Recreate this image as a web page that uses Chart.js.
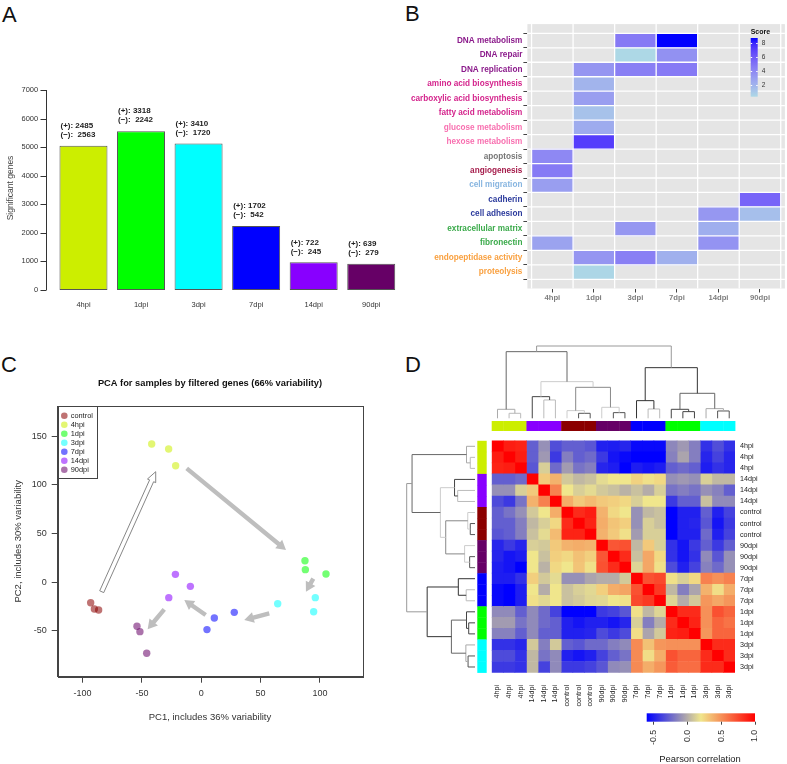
<!DOCTYPE html>
<html lang="en">
<head>
<meta charset="UTF-8">
<title>Time course transcriptome overview</title>
<script src="https://cdn.jsdelivr.net/npm/chart.js"></script>
<style>
  body { margin: 0; background: #fff; width: 787px; height: 764px; overflow: hidden; position: relative;
         font-family: 'Liberation Sans', Arial, sans-serif; }
  canvas { position: absolute; }
  .tag { position: absolute; font-size: 22px; line-height: 22px; color: #111; }
</style>
</head>
<body>
<div class="tag" style="left:2px;top:4px">A</div>
<div class="tag" style="left:405px;top:3px">B</div>
<div class="tag" style="left:1px;top:354px">C</div>
<div class="tag" style="left:405px;top:354px">D</div>

<canvas id="chartA" width="400" height="320" style="left:0;top:0"></canvas>
<canvas id="chartB" width="397" height="320" style="left:390px;top:0"></canvas>
<canvas id="chartC" width="390" height="444" style="left:0;top:320px"></canvas>
<canvas id="chartD" width="397" height="444" style="left:390px;top:320px"></canvas>

<script>
// ---- data: panel A (significant genes per time point)
const timeLabels = ['4hpi', '1dpi', '3dpi', '7dpi', '14dpi', '90dpi'];
const upGenes = [2485, 3318, 3410, 1702, 722, 639];
const downGenes = [2563, 2242, 1720, 542, 245, 279];
const geneTicks = [0, 1000, 2000, 3000, 4000, 5000, 6000, 7000];

// ---- data: panel B (enriched terms, score per time point, null = not enriched)
const goTerms = ['DNA metabolism', 'DNA repair', 'DNA replication', 'amino acid biosynthesis',
  'carboxylic acid biosynthesis', 'fatty acid metabolism', 'glucose metabolism', 'hexose metabolism',
  'apoptosis', 'angiogenesis', 'cell migration', 'cadherin', 'cell adhesion', 'extracellular matrix',
  'fibronectin', 'endopeptidase activity', 'proteolysis'];
const goTermColors = ['#8B1A8B', '#8B1A8B', '#8B1A8B', '#D4248C', '#D4248C', '#D4248C', '#F870B0', '#F870B0',
  '#777777', '#A51C4B', '#87B5E0', '#2B3A9C', '#2B3A9C', '#3AAA4A', '#3AAA4A', '#F9A03F', '#F9A03F'];
const goScores = [
  [null, null, 4.6, 8.7, null, null],
  [null, null, 0.4, 3.6, null, null],
  [null, 3.4, 4.4, 4.6, null, null],
  [null, 2.0, null, null, null, null],
  [null, 3.0, null, null, null, null],
  [null, 1.4, null, null, null, null],
  [null, 2.4, null, null, null, null],
  [null, 7.2, null, null, null, null],
  [4.0, null, null, null, null, null],
  [4.6, null, null, null, null, null],
  [3.0, null, null, null, null, null],
  [null, null, null, null, null, 5.6],
  [null, null, null, null, 3.3, 1.5],
  [null, null, 3.3, null, 2.3, null],
  [2.8, null, null, null, 3.5, null],
  [null, 3.4, 4.4, 2.2, null, null],
  [null, 0.5, null, null, null, null]
];
const scoreRange = [0.4, 8.7];
const scoreTicks = [2, 4, 6, 8];

// ---- data: panel C (PCA coordinates)
const pcaGroups = ['control', '4hpi', '1dpi', '3dpi', '7dpi', '14dpi', '90dpi'];
const pcaX = [[-93.2, -90.1, -86.5], [-41.8, -27.5, -21.6], [87.4, 87.7, 105.1], [64.4, 96.1, 94.7],
  [4.8, 11.0, 27.8], [-21.8, -9.2, -27.4], [-54.2, -51.7, -46.0]];
const pcaY = [[-21.0, -27.4, -28.5], [141.8, 136.7, 119.5], [22.1, 12.9, 8.5], [-22.0, -15.8, -30.2],
  [-48.6, -36.7, -30.9], [8.1, -4.2, -15.8], [-45.2, -50.7, -72.9]];
const pcaXTicks = [-100, -50, 0, 50, 100];
const pcaYTicks = [-50, 0, 50, 100, 150];
// arrows: x1, y1, x2, y2 in PC units (first one is the hollow arrow)
const pcaArrows = [[-83.9, -9.7, -38.4, 113.4], [-12.3, 116.8, 71.4, 33.1], [94.4, 3.7, 88.2, -9.7],
  [57.3, -31.9, 36.2, -38.7], [3.7, -33.6, -14.3, -18.2], [-31.2, -27.8, -45.2, -48.3]];

// ---- data: panel D (sample correlation heatmap)
const sampleLabels = ['4hpi', '4hpi', '4hpi', '14dpi', '14dpi', '14dpi', 'control', 'control', 'control',
  '90dpi', '90dpi', '90dpi', '7dpi', '7dpi', '7dpi', '1dpi', '1dpi', '1dpi', '3dpi', '3dpi', '3dpi'];
const corrMatrix = [
  [1.0, 0.9, 0.88, -0.27, -0.1, -0.33, -0.27, -0.27, -0.3, -0.49, -0.5, -0.47, -0.57, -0.57, -0.57, -0.13, -0.07, -0.16, -0.43, -0.33, -0.43],
  [0.9, 1.0, 0.9, -0.27, -0.07, -0.4, -0.16, -0.27, -0.23, -0.4, -0.53, -0.57, -0.6, -0.6, -0.6, -0.15, -0.03, -0.16, -0.47, -0.37, -0.47],
  [0.88, 0.9, 1.0, -0.3, 0.12, -0.23, -0.06, -0.2, -0.16, -0.47, -0.5, -0.6, -0.5, -0.53, -0.5, -0.27, -0.23, -0.27, -0.5, -0.43, -0.47],
  [-0.27, -0.27, -0.23, 1.0, 0.3, 0.38, 0.1, 0.04, 0.07, 0.16, 0.2, 0.2, 0.27, 0.22, 0.25, -0.1, -0.07, -0.1, 0.12, 0.04, 0.04],
  [-0.1, -0.1, 0.12, 0.3, 1.0, 0.55, 0.2, 0.12, 0.16, 0.1, 0.07, 0.02, 0.07, 0.0, 0.12, -0.2, -0.16, -0.2, -0.1, -0.15, -0.27],
  [-0.34, -0.4, -0.2, 0.38, 0.55, 1.0, 0.4, 0.3, 0.35, 0.3, 0.28, 0.25, 0.12, 0.2, 0.2, -0.4, -0.27, -0.27, 0.07, -0.12, -0.12],
  [-0.27, -0.2, -0.1, 0.1, 0.2, 0.4, 1.0, 0.85, 0.9, 0.38, 0.25, 0.2, -0.1, 0.04, 0.07, -0.6, -0.49, -0.49, -0.27, -0.49, -0.37],
  [-0.27, -0.27, -0.16, 0.04, 0.12, 0.25, 0.85, 1.0, 0.88, 0.4, 0.32, 0.28, -0.1, 0.12, 0.07, -0.6, -0.49, -0.47, -0.3, -0.53, -0.4],
  [-0.3, -0.27, -0.16, 0.07, 0.16, 0.35, 0.88, 0.88, 1.0, 0.38, 0.3, 0.22, -0.06, 0.12, 0.12, -0.6, -0.49, -0.49, -0.23, -0.49, -0.37],
  [-0.47, -0.4, -0.47, 0.12, 0.1, 0.3, 0.38, 0.4, 0.38, 1.0, 0.7, 0.72, 0.04, 0.3, 0.12, -0.43, -0.53, -0.4, -0.27, -0.4, -0.27],
  [-0.47, -0.53, -0.5, 0.2, 0.07, 0.28, 0.25, 0.33, 0.28, 0.7, 1.0, 0.85, 0.07, 0.42, 0.25, -0.43, -0.53, -0.43, -0.12, -0.3, -0.1],
  [-0.5, -0.53, -0.6, 0.2, 0.02, 0.25, 0.2, 0.32, 0.22, 0.72, 0.85, 1.0, 0.14, 0.42, 0.22, -0.34, -0.49, -0.37, -0.15, -0.23, -0.1],
  [-0.5, -0.5, -0.43, 0.28, 0.1, 0.16, -0.1, -0.1, -0.03, 0.0, 0.0, 0.1, 1.0, 0.72, 0.75, 0.22, 0.12, 0.25, 0.55, 0.5, 0.55],
  [-0.57, -0.6, -0.5, 0.2, 0.0, 0.2, 0.07, 0.12, 0.15, 0.28, 0.4, 0.43, 0.72, 1.0, 0.8, 0.04, -0.16, -0.03, 0.38, 0.23, 0.4],
  [-0.57, -0.6, -0.5, 0.22, 0.15, 0.2, 0.07, 0.1, 0.14, 0.15, 0.2, 0.22, 0.75, 0.8, 1.0, 0.14, 0.0, 0.1, 0.48, 0.42, 0.48],
  [-0.12, -0.12, -0.27, -0.12, -0.23, -0.37, -0.6, -0.6, -0.6, -0.4, -0.37, -0.3, 0.22, 0.04, 0.14, 1.0, 0.85, 0.85, 0.5, 0.72, 0.65],
  [-0.06, -0.06, -0.2, -0.12, -0.23, -0.27, -0.49, -0.53, -0.49, -0.49, -0.53, -0.47, 0.12, -0.16, 0.0, 0.85, 1.0, 0.88, 0.5, 0.65, 0.6],
  [-0.15, -0.15, -0.27, -0.12, -0.27, -0.27, -0.49, -0.49, -0.47, -0.34, -0.4, -0.34, 0.23, -0.03, 0.1, 0.88, 0.9, 1.0, 0.48, 0.65, 0.65],
  [-0.43, -0.43, -0.47, 0.1, -0.16, 0.1, -0.27, -0.3, -0.23, -0.23, -0.16, -0.12, 0.52, 0.33, 0.48, 0.5, 0.5, 0.5, 1.0, 0.85, 0.85],
  [-0.34, -0.34, -0.43, 0.04, -0.2, -0.12, -0.49, -0.53, -0.49, -0.37, -0.27, -0.2, 0.52, 0.23, 0.4, 0.72, 0.65, 0.65, 0.85, 1.0, 0.85],
  [-0.4, -0.4, -0.43, 0.04, -0.37, -0.12, -0.4, -0.4, -0.37, -0.3, -0.12, -0.1, 0.52, 0.4, 0.48, 0.68, 0.62, 0.62, 0.85, 0.85, 1.0]
];
// hierarchical clustering merges (R style: negative = leaf, positive = earlier merge), height
const treeMerges = [
  [-2, -3, 15], [-1, 1, 27], [-5, -6, 55], [-4, 3, 65], [-8, -9, 15], [-7, 5, 23], [-11, -12, 17],
  [-10, 7, 33], [6, 8, 93], [4, 9, 110], [2, 10, 200], [-14, -15, 28], [-13, 12, 53], [-17, -18, 20],
  [-16, 14, 27], [-20, -21, 22], [-19, 16, 29], [15, 17, 75], [13, 18, 152], [11, 19, 217]
];
const corrRange = [-0.6, 1.0];
const corrTicks = [-0.5, 0.0, 0.5, 1.0];

// ---- styles
const groupColors = { control: '#8B0000', '4hpi': '#CCEE00', '1dpi': '#00FF00', '3dpi': '#00FFFF',
  '7dpi': '#0000FF', '14dpi': '#8800FF', '90dpi': '#660066' };
const treeGreys = ['#bbb', '#aaa', '#bbb', '#444', '#555', '#ccc', '#555', '#ccc', '#888', '#ccc',
  '#666', '#bbb', '#333', '#444', '#444', '#555', '#aaa', '#666', '#333', '#999'];
const FONT = "'Liberation Sans', Arial, sans-serif";

Chart.defaults.font.family = FONT;
Chart.defaults.color = '#333';
Chart.defaults.plugins.legend.display = false;
Chart.defaults.plugins.tooltip.enabled = false;

function label(ctx, text, x, y, o = {}) {
  ctx.save();
  ctx.translate(x, y);
  if (o.rot) ctx.rotate(o.rot);
  ctx.font = o.font || ('9px ' + FONT);
  ctx.fillStyle = o.color || '#333';
  ctx.textAlign = o.align || 'center';
  ctx.textBaseline = o.base || 'middle';
  ctx.fillText(text, 0, 0);
  ctx.restore();
}

function fade(hex, a) {
  const n = parseInt(hex.slice(1), 16);
  return `rgba(${n >> 16},${(n >> 8) & 255},${n & 255},${a})`;
}

// colour ramps: ggplot style Lab gradient for the score, blue-khaki-red for correlation
function toLab([r, g, b]) {
  const f = c => { c /= 255; return c <= 0.04045 ? c / 12.92 : Math.pow((c + 0.055) / 1.055, 2.4); };
  const R = f(r), G = f(g), B = f(b);
  const h = t => t > 0.008856 ? Math.cbrt(t) : 7.787 * t + 16 / 116;
  const X = h((R * 0.4124 + G * 0.3576 + B * 0.1805) / 0.95047);
  const Y = h(R * 0.2126 + G * 0.7152 + B * 0.0722);
  const Z = h((R * 0.0193 + G * 0.1192 + B * 0.9505) / 1.08883);
  return [116 * Y - 16, 500 * (X - Y), 200 * (Y - Z)];
}
function fromLab([L, a, b]) {
  const fy = (L + 16) / 116, fx = a / 500 + fy, fz = fy - b / 200;
  const h = t => t * t * t > 0.008856 ? t * t * t : (t - 16 / 116) / 7.787;
  const X = h(fx) * 0.95047, Y = h(fy), Z = h(fz) * 1.08883;
  const g = c => {
    c = c > 0.0031308 ? 1.055 * Math.pow(c, 1 / 2.4) - 0.055 : 12.92 * c;
    return Math.round(Math.min(1, Math.max(0, c)) * 255);
  };
  return `rgb(${g(X * 3.2406 - Y * 1.5372 - Z * 0.4986)},${g(-X * 0.9689 + Y * 1.8758 + Z * 0.0415)},${g(X * 0.0557 - Y * 0.2040 + Z * 1.0570)})`;
}
const lowLab = toLab([173, 216, 230]), highLab = toLab([0, 0, 255]);
function scoreColor(v) {
  const t = Math.max(0, Math.min(1, (v - scoreRange[0]) / (scoreRange[1] - scoreRange[0])));
  return fromLab(lowLab.map((c, k) => c + (highLab[k] - c) * t));
}
const corrStops = [-0.6, 0.2, 1.0];
const corrRGB = [[0, 0, 255], [240, 230, 140], [255, 0, 0]];
function corrColor(v) {
  const k = v <= corrStops[1] ? 0 : 1;
  const t = Math.max(0, Math.min(1, (v - corrStops[k]) / (corrStops[k + 1] - corrStops[k])));
  return `rgb(${corrRGB[k].map((a, m) => Math.round(a + (corrRGB[k + 1][m] - a) * t))})`;
}

// ================= A: bar chart =================
const barNotes = {
  id: 'barNotes',
  afterDatasetsDraw(chart) {
    const { ctx, scales: { y } } = chart;
    ctx.save();
    ctx.strokeStyle = '#333';
    ctx.lineWidth = 1;
    ctx.beginPath();
    ctx.moveTo(46.5, y.getPixelForValue(geneTicks[0]));
    ctx.lineTo(46.5, y.getPixelForValue(geneTicks[geneTicks.length - 1]));
    geneTicks.forEach(v => {
      const p = Math.round(y.getPixelForValue(v)) + 0.5;
      ctx.moveTo(46.5, p);
      ctx.lineTo(40.5, p);
    });
    ctx.stroke();
    ctx.restore();
    label(ctx, 'Significant genes', 11, 188, { rot: -Math.PI / 2, font: '8.5px ' + FONT, color: '#444' });
    chart.getDatasetMeta(0).data.forEach((bar, i) => {
      const left = bar.x - bar.width / 2 + 1;
      const o = { align: 'left', font: 'bold 8px ' + FONT, color: '#222' };
      label(ctx, '(+): ' + upGenes[i], left, bar.y - 20, o);
      label(ctx, '(\u2212):  ' + downGenes[i], left, bar.y - 11, o);
    });
  }
};

new Chart(document.getElementById('chartA'), {
  type: 'bar',
  data: {
    labels: timeLabels,
    datasets: [{
      data: upGenes.map((u, i) => u + downGenes[i]),
      backgroundColor: timeLabels.map(t => groupColors[t]),
      borderColor: '#555',
      borderWidth: 1,
      borderSkipped: false,
      barPercentage: 0.834,
      categoryPercentage: 1
    }]
  },
  options: {
    responsive: false, animation: false, devicePixelRatio: 1, events: [],
    layout: { padding: { top: 90, left: 0, right: 0, bottom: 0 } },
    scales: {
      x: {
        grid: { display: false, drawTicks: false }, border: { display: false },
        ticks: { padding: 10, color: '#333', font: { size: 7.5 } },
        afterFit: s => { s.height = 30; }
      },
      y: {
        min: 0, max: 7000,
        afterBuildTicks: s => { s.ticks = geneTicks.map(v => ({ value: v })); },
        grid: { display: false, drawTicks: false }, border: { display: false },
        ticks: { callback: v => String(v), padding: 16.5, color: '#333', font: { size: 7.5 } },
        afterFit: s => { s.width = 54.7; }
      }
    }
  },
  plugins: [barNotes]
});

// ================= B: enrichment heatmap =================
const goPanel = {
  id: 'goPanel',
  beforeDraw(chart) {
    const { ctx, chartArea: a } = chart;
    ctx.save();
    ctx.fillStyle = '#E5E5E5';
    ctx.fillRect(a.left, a.top, a.width, a.height);
    ctx.restore();
  },
  afterDatasetsDraw(chart) {
    const { ctx, chartArea: a, scales: { x, y } } = chart;
    ctx.save();
    ctx.strokeStyle = '#fff';
    ctx.lineWidth = 1.3;
    ctx.beginPath();
    for (let j = 0; j <= timeLabels.length; j++) {
      const p = x.getPixelForValue(j + 0.5);
      ctx.moveTo(p, a.top); ctx.lineTo(p, a.bottom);
    }
    for (let i = 0; i <= goTerms.length; i++) {
      const p = y.getPixelForValue(i + 0.5);
      ctx.moveTo(a.left, p); ctx.lineTo(a.right, p);
    }
    ctx.stroke();
    ctx.restore();
  },
  afterDraw(chart) {
    const { ctx } = chart;
    const bx = 360.7, bw = 7, top = 38, bottom = 96.7;
    const vy = v => bottom - (v - scoreRange[0]) / (scoreRange[1] - scoreRange[0]) * (bottom - top);
    label(ctx, 'Score', bx, 32.5, { align: 'left', font: 'bold 7px ' + FONT, color: '#111' });
    const grad = ctx.createLinearGradient(0, bottom, 0, top);
    for (let k = 0; k <= 10; k++) grad.addColorStop(k / 10, scoreColor(scoreRange[0] + (scoreRange[1] - scoreRange[0]) * k / 10));
    ctx.save();
    ctx.fillStyle = grad;
    ctx.fillRect(bx, top, bw, bottom - top);
    ctx.strokeStyle = '#fff';
    ctx.lineWidth = 1;
    ctx.beginPath();
    scoreTicks.forEach(v => {
      const p = Math.round(vy(v)) + 0.5;
      ctx.moveTo(bx, p); ctx.lineTo(bx + 1.5, p);
      ctx.moveTo(bx + bw - 1.5, p); ctx.lineTo(bx + bw, p);
    });
    ctx.stroke();
    ctx.restore();
    scoreTicks.forEach(v => label(ctx, String(v), bx + bw + 4, vy(v), { align: 'left', font: '6.5px ' + FONT, color: '#333' }));
  }
};

new Chart(document.getElementById('chartB'), {
  type: 'bar',
  data: {
    datasets: timeLabels.map((t, j) => ({
      data: goScores.map((row, i) => row[j] == null ? null : { x: [j + 0.5, j + 1.5], y: i + 1, v: row[j] }).filter(Boolean),
      backgroundColor: c => c.raw ? scoreColor(c.raw.v) : '#E5E5E5',
      borderWidth: 0,
      grouped: false,
      barPercentage: 1,
      categoryPercentage: 1
    }))
  },
  options: {
    indexAxis: 'y',
    responsive: false, animation: false, devicePixelRatio: 1, events: [],
    layout: { padding: { top: 24.1, right: 2.1, left: 0, bottom: 0 } },
    scales: {
      x: {
        type: 'linear', min: 0.4, max: 6.6,
        afterBuildTicks: s => { s.ticks = timeLabels.map((t, j) => ({ value: j + 1 })); },
        grid: { drawOnChartArea: false, tickLength: 4, color: '#444' }, border: { display: false },
        ticks: { callback: (v, i) => timeLabels[i], autoSkip: false, maxRotation: 0, padding: 1,
          color: '#7F7F7F', font: { size: 7.7, weight: 'bold' } },
        afterFit: s => { s.height = 31.5; }
      },
      y: {
        type: 'linear', min: 0.4, max: 17.6, reverse: true,
        afterBuildTicks: s => { s.ticks = goTerms.map((t, i) => ({ value: i + 1 })); },
        grid: { drawOnChartArea: false, tickLength: 4, color: '#444' }, border: { display: false },
        ticks: { callback: (v, i) => goTerms[i], autoSkip: false, padding: 1,
          color: c => goTermColors[c.index], font: { size: 8.2, weight: 'bold' } },
        afterFit: s => { s.width = 137.4; }
      }
    }
  },
  plugins: [goPanel]
});

// ================= C: PCA scatter =================
function drawArrow(ctx, x1, y1, x2, y2, hollow) {
  const len = Math.hypot(x2 - x1, y2 - y1);
  const hl = hollow ? 10 : 9.5, hw = hollow ? 4.5 : 5.5, sw = 2.2;
  ctx.save();
  ctx.translate(x1, y1);
  ctx.rotate(Math.atan2(y2 - y1, x2 - x1));
  ctx.beginPath();
  ctx.moveTo(0, -sw); ctx.lineTo(len - hl, -sw); ctx.lineTo(len - hl, -hw); ctx.lineTo(len, 0);
  ctx.lineTo(len - hl, hw); ctx.lineTo(len - hl, sw); ctx.lineTo(0, sw); ctx.closePath();
  if (hollow) {
    ctx.fillStyle = '#fff'; ctx.fill();
    ctx.strokeStyle = '#777'; ctx.lineWidth = 0.8; ctx.stroke();
  } else {
    ctx.fillStyle = '#BEBEBE'; ctx.fill();
  }
  ctx.restore();
}

const pcaDecor = {
  id: 'pcaDecor',
  beforeDatasetsDraw(chart) {
    const { ctx, scales: { x, y } } = chart;
    pcaArrows.forEach(([x1, y1, x2, y2], k) => drawArrow(ctx, x.getPixelForValue(x1), y.getPixelForValue(y1),
      x.getPixelForValue(x2), y.getPixelForValue(y2), k === 0));
  },
  afterDraw(chart) {
    const { ctx, chartArea: a } = chart;
    ctx.save();
    ctx.strokeStyle = '#444';
    ctx.lineWidth = 1;
    ctx.strokeRect(Math.round(a.left) + 0.5, Math.round(a.top) + 0.5, Math.round(a.width), Math.round(a.height));
    // legend
    ctx.fillStyle = '#fff';
    ctx.fillRect(a.left + 1, a.top + 1, 38, 71);
    ctx.strokeRect(Math.round(a.left) + 0.5, Math.round(a.top) + 0.5, 39, 72);
    pcaGroups.forEach((g, k) => {
      const cy = a.top + 9.7 + k * 9;
      ctx.beginPath();
      ctx.arc(a.left + 6.6, cy, 3.3, 0, Math.PI * 2);
      ctx.fillStyle = fade(groupColors[g], 0.55);
      ctx.fill();
      label(ctx, g, a.left + 13, cy, { align: 'left', font: '7.4px ' + FONT, color: '#222' });
    });
    ctx.restore();
    const cx = (a.left + a.right) / 2;
    label(ctx, 'PCA for samples by filtered genes (66% variability)', cx, 63.3, { font: 'bold 9.3px ' + FONT, color: '#111' });
    label(ctx, 'PC1, includes 36% variability', cx, 397, { font: '9.5px ' + FONT, color: '#333' });
    label(ctx, 'PC2, includes 30% variability', 18, (a.top + a.bottom) / 2, { rot: -Math.PI / 2, font: '9.5px ' + FONT, color: '#333' });
  }
};

new Chart(document.getElementById('chartC'), {
  type: 'scatter',
  data: {
    datasets: pcaGroups.map((g, k) => ({
      label: g,
      data: pcaX[k].map((v, i) => ({ x: v, y: pcaY[k][i] })),
      backgroundColor: fade(groupColors[g], 0.55),
      borderWidth: 0,
      pointRadius: 3.7
    }))
  },
  options: {
    responsive: false, animation: false, devicePixelRatio: 1, events: [],
    layout: { padding: { top: 86, right: 27.7, left: 0, bottom: 0 } },
    scales: {
      x: {
        type: 'linear', min: -121, max: 135.7,
        afterBuildTicks: s => { s.ticks = pcaXTicks.map(v => ({ value: v })); },
        grid: { drawOnChartArea: false, tickLength: 6, color: '#444' }, border: { color: '#444' },
        ticks: { callback: v => String(v), padding: 5, color: '#333', font: { size: 9 } },
        afterFit: s => { s.height = 87.3; }
      },
      y: {
        type: 'linear', min: -96.9, max: 180.8,
        afterBuildTicks: s => { s.ticks = pcaYTicks.map(v => ({ value: v })); },
        grid: { drawOnChartArea: false, tickLength: 6, color: '#444' }, border: { color: '#444' },
        ticks: { callback: v => String(v), padding: 5, color: '#333', font: { size: 9 } },
        afterFit: s => { s.width = 57.7; }
      }
    }
  },
  plugins: [pcaDecor]
});

// ================= D: correlation heatmap with dendrograms =================
function treeLayout(leafPos) {
  const pos = [], hgt = [];
  const node = id => id < 0 ? [leafPos[-id - 1], 0] : [pos[id - 1], hgt[id - 1]];
  treeMerges.forEach(([a, b, h], k) => { pos[k] = (node(a)[0] + node(b)[0]) / 2; hgt[k] = h; });
  return node;
}

function drawTree(ctx, leafPos, base, span, horizontal) {
  const node = treeLayout(leafPos);
  const maxH = treeMerges[treeMerges.length - 1][2];
  const d = h => base - h / maxH * span;
  ctx.save();
  ctx.lineWidth = 1;
  treeMerges.forEach(([a, b, h], k) => {
    const [pa, ha] = node(a), [pb, hb] = node(b);
    ctx.strokeStyle = treeGreys[k];
    ctx.beginPath();
    if (horizontal) {
      ctx.moveTo(pa, d(ha)); ctx.lineTo(pa, d(h)); ctx.lineTo(pb, d(h)); ctx.lineTo(pb, d(hb));
    } else {
      ctx.moveTo(d(ha), pa); ctx.lineTo(d(h), pa); ctx.lineTo(d(h), pb); ctx.lineTo(d(hb), pb);
    }
    ctx.stroke();
  });
  ctx.restore();
}

const corrDecor = {
  id: 'corrDecor',
  afterDraw(chart) {
    const { ctx, scales: { x, y } } = chart;
    const colX = sampleLabels.map((s, j) => x.getPixelForValue(j + 0.5));
    const rowY = sampleLabels.map((s, i) => y.getPixelForValue(i + 0.5));
    // group colour bars
    sampleLabels.forEach((s, j) => {
      ctx.fillStyle = groupColors[s];
      const x0 = x.getPixelForValue(j), x1 = x.getPixelForValue(j + 1);
      ctx.fillRect(x0, 101, x1 - x0 + 0.4, 10);
      const y0 = y.getPixelForValue(j), y1 = y.getPixelForValue(j + 1);
      ctx.fillRect(87.3, y0, 9.4, y1 - y0 + 0.4);
    });
    drawTree(ctx, colX, 98.3, 72.3, true);
    drawTree(ctx, rowY, 85, 68.3, false);
    // colour key
    const kx0 = 256.7, kx1 = 365, ky = 393.3, kh = 8.4;
    const kv = v => kx0 + (v - corrRange[0]) / (corrRange[1] - corrRange[0]) * (kx1 - kx0);
    const grad = ctx.createLinearGradient(kx0, 0, kx1, 0);
    corrStops.forEach(v => grad.addColorStop((v - corrRange[0]) / (corrRange[1] - corrRange[0]), corrColor(v)));
    ctx.save();
    ctx.fillStyle = grad;
    ctx.fillRect(kx0, ky, kx1 - kx0, kh);
    ctx.strokeStyle = '#444';
    ctx.lineWidth = 1;
    ctx.beginPath();
    corrTicks.forEach(v => { const p = Math.round(kv(v)) + 0.5; ctx.moveTo(p, ky + kh); ctx.lineTo(p, ky + kh + 3); });
    ctx.stroke();
    ctx.restore();
    corrTicks.forEach(v => label(ctx, v.toFixed(1), kv(v), 410, { rot: -Math.PI / 2, align: 'right', font: '8.7px ' + FONT, color: '#333' }));
    label(ctx, 'Pearson correlation', 310, 439.3, { font: '9.4px ' + FONT, color: '#222' });
  }
};

new Chart(document.getElementById('chartD'), {
  type: 'bar',
  data: {
    datasets: sampleLabels.map((s, j) => ({
      data: corrMatrix.map((row, i) => ({ x: [j, j + 1], y: i + 0.5, v: row[j] })),
      backgroundColor: c => c.raw ? corrColor(c.raw.v) : '#fff',
      borderWidth: 0,
      grouped: false,
      barPercentage: 1,
      categoryPercentage: 1
    }))
  },
  options: {
    indexAxis: 'y',
    responsive: false, animation: false, devicePixelRatio: 1, events: [],
    layout: { padding: { top: 115, right: 0, left: 101.7, bottom: 0 } },
    scales: {
      x: {
        type: 'linear', min: 0, max: sampleLabels.length,
        afterBuildTicks: s => { s.ticks = sampleLabels.map((t, j) => ({ value: j + 0.5 })); },
        grid: { display: false, drawTicks: false }, border: { display: false },
        ticks: { callback: (v, i) => sampleLabels[i], autoSkip: false, minRotation: 90, maxRotation: 90,
          padding: 6.7, color: '#222', font: { size: 7.2 } },
        afterFit: s => { s.height = 85.7; }
      },
      y: {
        type: 'linear', position: 'right', min: 0, max: sampleLabels.length, reverse: true,
        afterBuildTicks: s => { s.ticks = sampleLabels.map((t, i) => ({ value: i + 0.5 })); },
        grid: { display: false, drawTicks: false }, border: { display: false },
        ticks: { callback: (v, i) => sampleLabels[i], autoSkip: false, padding: 5, color: '#222', font: { size: 7.2 } },
        afterFit: s => { s.width = 52; }
      }
    }
  },
  plugins: [corrDecor]
});
</script>
</body>
</html>
